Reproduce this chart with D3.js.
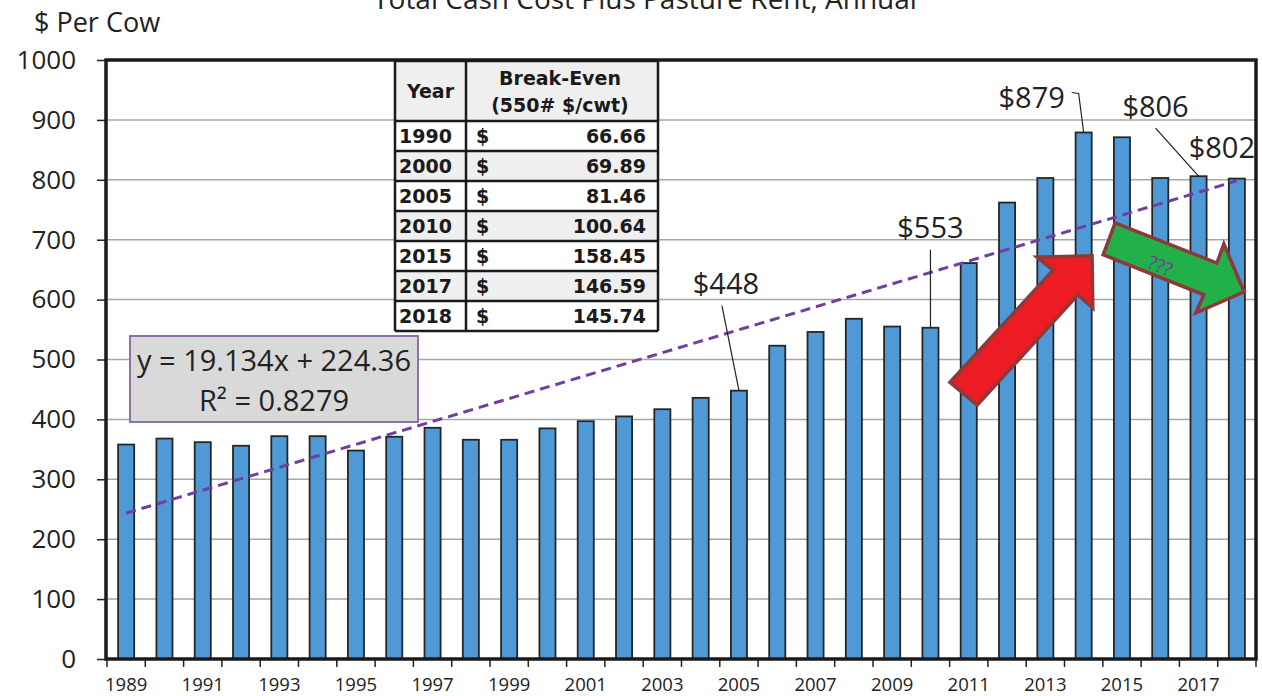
<!DOCTYPE html>
<html>
<head>
<meta charset="utf-8">
<script src="https://cdn.jsdelivr.net/npm/d3@7"></script>
<style>
  body { margin: 0; background: #fff; }
  svg { display: block; font-family: "Open Sans", sans-serif; }
</style>
</head>
<body>
<div id="chart"></div>
<script>
// yearly cash cost + pasture rent, $ per cow
var years = [1989, 1990, 1991, 1992, 1993, 1994, 1995, 1996, 1997, 1998,
             1999, 2000, 2001, 2002, 2003, 2004, 2005, 2006, 2007, 2008,
             2009, 2010, 2011, 2012, 2013, 2014, 2015, 2016, 2017, 2018];
var costPerCow = [358, 368, 362, 356, 372, 372, 348, 371, 386, 366,
                  366, 385, 397, 405, 417, 436, 448, 523, 546, 568,
                  555, 553, 661, 762, 803, 879, 871, 803, 806, 802];
var yTicks = [0, 100, 200, 300, 400, 500, 600, 700, 800, 900, 1000];
var xLabelYears = [1989, 1991, 1993, 1995, 1997, 1999, 2001, 2003, 2005, 2007, 2009, 2011, 2013, 2015, 2017];

// break-even table
var tableYears = [1990, 2000, 2005, 2010, 2015, 2017, 2018];
var tableBreakEven = [66.66, 69.89, 81.46, 100.64, 158.45, 146.59, 145.74];

// linear trend from the spreadsheet
var trendSlope = 19.134, trendIntercept = 224.36, trendR2 = 0.8279;

// labelled bars
var calloutYears = [2005, 2010, 2014, 2017, 2018];
var calloutLabels = ["$448", "$553", "$879", "$806", "$802"];

// arrows, in (year, $) units
var redArrow = [[2010.51, 462], [2013.20, 649], [2012.78, 671], [2014.22, 673],
                [2014.24, 586], [2013.85, 608], [2011.22, 424]];
var greenArrow = [[2014.82, 728], [2017.48, 661], [2017.66, 693], [2018.19, 613],
                  [2016.93, 578], [2017.14, 608], [2014.51, 675]];

var W = 1262, H = 696;
var margin = {top: 60, right: 6, bottom: 37, left: 107};
var x0 = margin.left, x1 = W - margin.right, y0 = H - margin.bottom, y1 = margin.top;

var svg = d3.select("#chart").append("svg")
    .attr("width", W)
    .attr("height", H);

var xScale = d3.scaleBand()
    .domain(years)
    .range([x0, x1])
    .padding(0.58)
    .paddingOuter(0.29);
var xBand = d3.scaleBand().domain(years).range([x0, x1]);
var xLin = d3.scaleLinear().domain([1988.5, 2018.5]).range([x0, x1]);
var yScale = d3.scaleLinear().domain([0, 1000]).range([y0, y1]);

// grid
svg.append("g")
    .selectAll("line")
    .data(yTicks.slice(1, -1))
    .enter().append("line")
    .attr("x1", x0).attr("x2", x1)
    .attr("y1", function(d) { return yScale(d); })
    .attr("y2", function(d) { return yScale(d); })
    .attr("stroke", "#a6a6a6")
    .attr("stroke-width", 1.5);

// bars
svg.append("g")
    .selectAll("rect")
    .data(years)
    .enter().append("rect")
    .attr("x", function(d) { return xScale(d); })
    .attr("width", xScale.bandwidth())
    .attr("y", function(d, i) { return yScale(costPerCow[i]); })
    .attr("height", function(d, i) { return y0 - yScale(costPerCow[i]); })
    .attr("fill", "#4f9ad6")
    .attr("stroke", "#262626")
    .attr("stroke-width", 1.8);

// trend line
var trendLine = d3.line()
    .x(function(d) { return xLin(d); })
    .y(function(d) { return yScale(trendSlope * (d - 1988) + trendIntercept); });
svg.append("path")
    .attr("d", trendLine([years[0], years[years.length - 1]]))
    .attr("fill", "none")
    .attr("stroke", "#7040a0")
    .attr("stroke-width", 3)
    .attr("stroke-dasharray", "10,6");

// y axis
var yAxis = svg.append("g")
    .attr("transform", "translate(" + x0 + ",0)")
    .call(d3.axisLeft(yScale).tickValues(yTicks).tickFormat(d3.format("d"))
      .tickSize(10).tickPadding(21));
yAxis.select(".domain").remove();
yAxis.selectAll("line").attr("stroke", "#222").attr("stroke-width", 1.5);
yAxis.selectAll("text").attr("font-size", 26).attr("fill", "#222")
    .attr("font-family", "Open Sans");

// x axis: ticks on band edges, labels every other year
var edges = years.map(function(d) { return xBand(d); }).concat([x1]);
svg.append("g")
    .selectAll("line")
    .data(edges)
    .enter().append("line")
    .attr("x1", function(d) { return d; }).attr("x2", function(d) { return d; })
    .attr("y1", y0).attr("y2", y0 + 8)
    .attr("stroke", "#222").attr("stroke-width", 1.5);
svg.append("g")
    .selectAll("text")
    .data(xLabelYears)
    .enter().append("text")
    .attr("x", function(d) { return xBand(d) + xBand.bandwidth() / 2; })
    .attr("y", y0 + 32)
    .attr("text-anchor", "middle")
    .attr("font-size", 18.5)
    .attr("fill", "#222")
    .text(function(d) { return d; });

// callout leaders
var calloutText = [[-13, -107], [0, -100], [-52, -35], [-43, -69], [-15, -31]];
var calloutLine = [
  [[-17, -85], [0, 0]],
  [[0, -78], [0, 0]],
  [[-12, -40], [-5, -39], [0, 0]],
  [[-43, -48], [0, 0]],
  []
];
var cg = svg.append("g");
calloutYears.forEach(function(yr, k) {
  var bx = xBand(yr) + xBand.bandwidth() / 2;
  var by = yScale(costPerCow[years.indexOf(yr)]);
  if (calloutLine[k].length) {
    cg.append("path")
      .attr("d", d3.line()(calloutLine[k].map(function(p) { return [bx + p[0], by + p[1]]; })))
      .attr("fill", "none")
      .attr("stroke", "#222")
      .attr("stroke-width", 1.2);
  }
  cg.append("text")
    .attr("x", bx + calloutText[k][0])
    .attr("y", by + calloutText[k][1])
    .attr("dy", "0.35em")
    .attr("text-anchor", "middle")
    .attr("font-size", 29)
    .attr("fill", "#222")
    .text(calloutLabels[k]);
});

// frame
svg.append("rect")
    .attr("x", x0 - 1).attr("y", y1)
    .attr("width", x1 - x0 + 1).attr("height", y0 - y1)
    .attr("fill", "none")
    .attr("stroke", "#1a1a1a")
    .attr("stroke-width", 3.5);

// table
var tx = 395, tw1 = 71, tw2 = 192, headH = 60, rowH = 30, ty = 61;
var tbl = svg.append("g").attr("font-family", "DejaVu Sans").attr("font-weight", "bold")
    .attr("font-size", 19).attr("fill", "#1a1a1a");
tbl.append("rect").attr("x", tx).attr("y", ty).attr("width", tw1 + tw2).attr("height", headH)
    .attr("fill", "#efefef");
tableYears.forEach(function(yr, i) {
  tbl.append("rect")
    .attr("x", tx).attr("y", ty + headH + i * rowH)
    .attr("width", tw1 + tw2).attr("height", rowH)
    .attr("fill", i % 2 ? "#efefef" : "#fff");
  var cy = ty + headH + i * rowH + rowH / 2;
  tbl.append("text").attr("x", tx + 4).attr("y", cy).attr("dy", "0.36em").text(yr);
  tbl.append("text").attr("x", tx + tw1 + 10).attr("y", cy).attr("dy", "0.36em").text("$");
  tbl.append("text").attr("x", tx + tw1 + tw2 - 12).attr("y", cy).attr("dy", "0.36em")
    .attr("text-anchor", "end").text(d3.format(".2f")(tableBreakEven[i]));
});
tbl.append("text").attr("x", tx + tw1 / 2).attr("y", ty + headH / 2).attr("dy", "0.36em")
    .attr("text-anchor", "middle").text("Year");
tbl.append("text").attr("x", tx + tw1 + tw2 / 2 - 2).attr("y", ty + 17).attr("dy", "0.36em")
    .attr("text-anchor", "middle").text("Break-Even");
tbl.append("text").attr("x", tx + tw1 + tw2 / 2 - 2).attr("y", ty + 44).attr("dy", "0.36em")
    .attr("text-anchor", "middle").text("(550# $/cwt)");
// table grid
var hl = [ty, ty + headH].concat(tableYears.map(function(d, i) { return ty + headH + (i + 1) * rowH; }));
tbl.selectAll("line.h").data(hl).enter().append("line")
    .attr("x1", tx).attr("x2", tx + tw1 + tw2)
    .attr("y1", function(d) { return d; }).attr("y2", function(d) { return d; })
    .attr("stroke", "#1a1a1a").attr("stroke-width", 2.5);
tbl.selectAll("line.v").data([tx, tx + tw1, tx + tw1 + tw2]).enter().append("line")
    .attr("x1", function(d) { return d; }).attr("x2", function(d) { return d; })
    .attr("y1", ty).attr("y2", hl[hl.length - 1])
    .attr("stroke", "#1a1a1a").attr("stroke-width", 2.5);

// equation box
var eq = svg.append("g");
eq.append("rect")
    .attr("x", 130).attr("y", 336).attr("width", 288).attr("height", 86)
    .attr("fill", "#d9d9d9")
    .attr("stroke", "#8064a2")
    .attr("stroke-width", 1.8);
eq.append("text")
    .attr("x", 274).attr("y", 361).attr("dy", "0.35em")
    .attr("text-anchor", "middle").attr("font-size", 29).attr("fill", "#222")
    .text("y = " + trendSlope + "x + " + trendIntercept);
eq.append("text")
    .attr("x", 274).attr("y", 401).attr("dy", "0.35em")
    .attr("text-anchor", "middle").attr("font-size", 29).attr("fill", "#222")
    .text("R² = " + trendR2);

// arrows
function arrowPath(pts) {
  return d3.line()(pts.map(function(p) { return [xLin(p[0]), yScale(p[1])]; })) + "Z";
}
svg.append("path")
    .attr("d", arrowPath(redArrow))
    .attr("fill", "#ed1c24")
    .attr("stroke", "#8c3a3a")
    .attr("stroke-width", 3.5)
    .attr("stroke-linejoin", "miter");
svg.append("path")
    .attr("d", arrowPath(greenArrow))
    .attr("fill", "#22b04b")
    .attr("stroke", "#8c3a3a")
    .attr("stroke-width", 3.5)
    .attr("stroke-linejoin", "miter");
svg.append("text")
    .attr("transform", "translate(" + xLin(2016.0) + "," + yScale(656) + ") rotate(22)")
    .attr("text-anchor", "middle")
    .attr("dy", "0.35em")
    .attr("font-size", 19)
    .attr("fill", "#7040a0")
    .text("???");

// titles
svg.append("text")
    .attr("x", 645).attr("y", 9)
    .attr("text-anchor", "middle")
    .attr("font-size", 28)
    .attr("fill", "#222")
    .text("Total Cash Cost Plus Pasture Rent, Annual");
svg.append("text")
    .attr("x", 34).attr("y", 32)
    .attr("font-size", 27)
    .attr("fill", "#222")
    .text("$ Per Cow");
</script>
</body>
</html>
